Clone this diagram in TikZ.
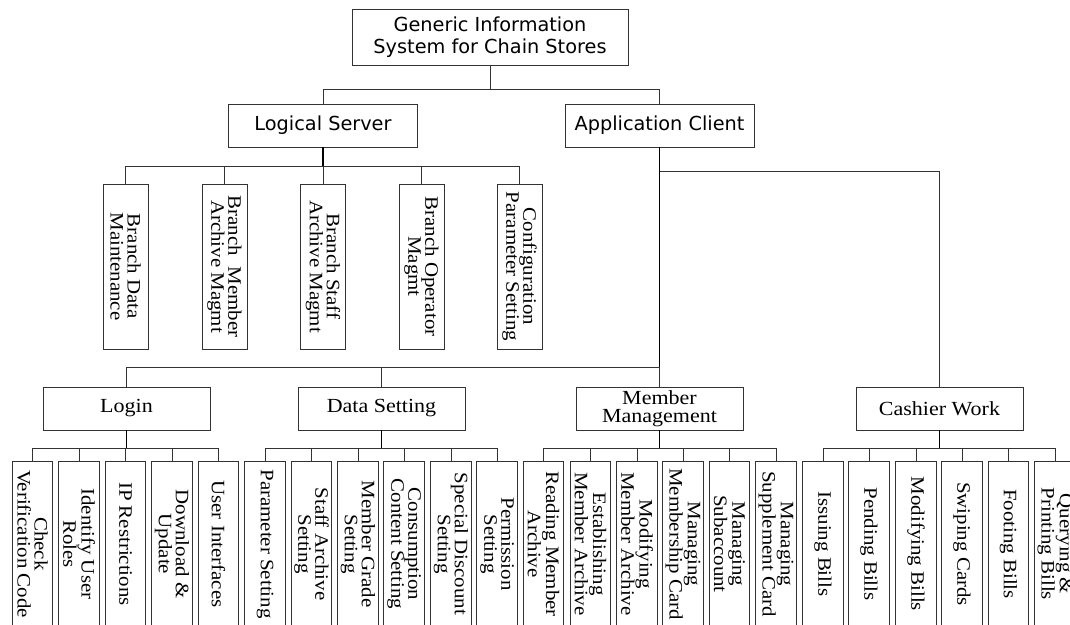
\documentclass[tikz,border=0pt]{standalone}
\usepackage{fontspec}
\newfontfamily\sansbox{DejaVu Sans}
\newfontfamily\serifbox[FakeStretch=1.1]{Liberation Serif}
\begin{document}
\begin{tikzpicture}[x=1pt,y=-1pt,
  box/.style={draw=black!80, line width=0.9pt, inner sep=0pt, fill=white},
  topbox/.style={box, align=center, font=\sansbox\fontsize{19.3}{22.5}\selectfont},
  hdr/.style={box, align=center, minimum width=167pt, minimum height=43pt,
    font=\serifbox\fontsize{20}{18}\selectfont},
  leaf/.style={box, rotate=-90, align=center, minimum width=166pt, minimum height=40.5pt,
    font=\serifbox\fontsize{19}{17}\selectfont},
  srvleaf/.style={leaf, minimum width=165pt, minimum height=45pt},
  link/.style={draw=black!80, line width=0.9pt},
  trunk/.style={draw=black, line width=1.5pt}]
\useasboundingbox (0,0) rectangle (1070,624);
\clip (0,0) rectangle (1070,624);
\fill[white] (0,0) rectangle (1070,624);

% upper levels
\node[topbox, minimum width=276pt, minimum height=56pt] (root) at (490,37)
  {Generic Information\\System for Chain Stores};
\node[topbox, minimum width=189pt, minimum height=43pt] (srv) at (323,125.5) {Logical Server};
\node[topbox, minimum width=189pt, minimum height=43pt] (app) at (659.5,125.5) {Application Client};

\draw[link] (root.south) -- ++(0,24) coordinate (rbus);
\draw[link] (rbus) -| (srv.north);
\draw[link] (rbus) -| (app.north);

% server modules
\foreach \x/\t [count=\i] in {125.5/{Branch Data\\Maintenance},
    224.5/{Branch\ \ Member\\Archive Magmt},
    323/{Branch Staff\\Archive Magmt},
    421.5/{Branch Operator\\Magmt},
    519.5/{Configuration\\Parameter Setting}}
  \node[srvleaf] (s\i) at (\x,266.5) {\t};
\draw[trunk] (srv.south) -- ++(0,19) coordinate (sbus);
\foreach \i in {1,...,5} \draw[link] (sbus) -| (s\i.west);

% client groups
\node[hdr] (login) at (126.5,408.5) {Login};
\node[hdr] (data) at (381.5,408.5) {Data Setting};
\node[hdr] (mm) at (659.5,408.5) {Member\\Management};
\node[hdr] (cw) at (939.5,408.5) {Cashier Work};

\draw[trunk] (app.south) -- ++(0,220) coordinate (abus);
\draw[link] (abus) -| (login.north);
\draw[link] (abus) -| (data.north);
\draw[link] (abus) -- (mm.north);
\path (app.south) ++(0,24) coordinate (abus2);
\draw[link] (abus2) -| (cw.north);

% leaf functions
\foreach \x/\t [count=\i] in {32.5/{Check\\Verification Code},
    79/{Identify User\\Roles},
    125.5/{IP Restrictions},
    172/{Download \&\\Update},
    218.5/{User Interfaces}}
  \node[leaf] (lg\i) at (\x,544) {\t};
\foreach \x/\t [count=\i] in {265/{Parameter Setting},
    311.5/{Staff Archive\\Setting},
    358/{Member Grade\\Setting},
    404/{Consumption\\Content Setting},
    451/{Special Discount\\Setting},
    497/{Permission\\Setting}}
  \node[leaf] (ds\i) at (\x,544) {\t};
\foreach \x/\t [count=\i] in {543.5/{Reading Member\\Archive},
    590.5/{Establishing\\Member Archive},
    637/{Modifying\\Member Archive},
    683/{Managing\\Membership Card},
    729.5/{Managing\\Subaccount},
    776/{Managing\\Supplement Card}}
  \node[leaf] (mm\i) at (\x,544) {\t};
\foreach \x/\t [count=\i] in {823/{Issuing Bills},
    869/{Pending Bills},
    916/{Modifying Bills},
    962/{Swiping Cards},
    1008.5/{Footing Bills},
    1055/{Querying \&\\Printing Bills}}
  \node[leaf] (cw\i) at (\x,544) {\t};

\draw[trunk] (login.south) -- ++(0,18) coordinate (lbus);
\foreach \i in {1,...,5} \draw[link] (lbus) -| (lg\i.west);
\draw[trunk] (data.south) -- ++(0,18) coordinate (dbus);
\foreach \i in {1,...,6} \draw[link] (dbus) -| (ds\i.west);
\draw[trunk] (mm.south) -- ++(0,18) coordinate (mbus);
\foreach \i in {1,...,6} \draw[link] (mbus) -| (mm\i.west);
\draw[trunk] (cw.south) -- ++(0,18) coordinate (cbus);
\foreach \i in {1,...,6} \draw[link] (cbus) -| (cw\i.west);
\end{tikzpicture}
\end{document}
